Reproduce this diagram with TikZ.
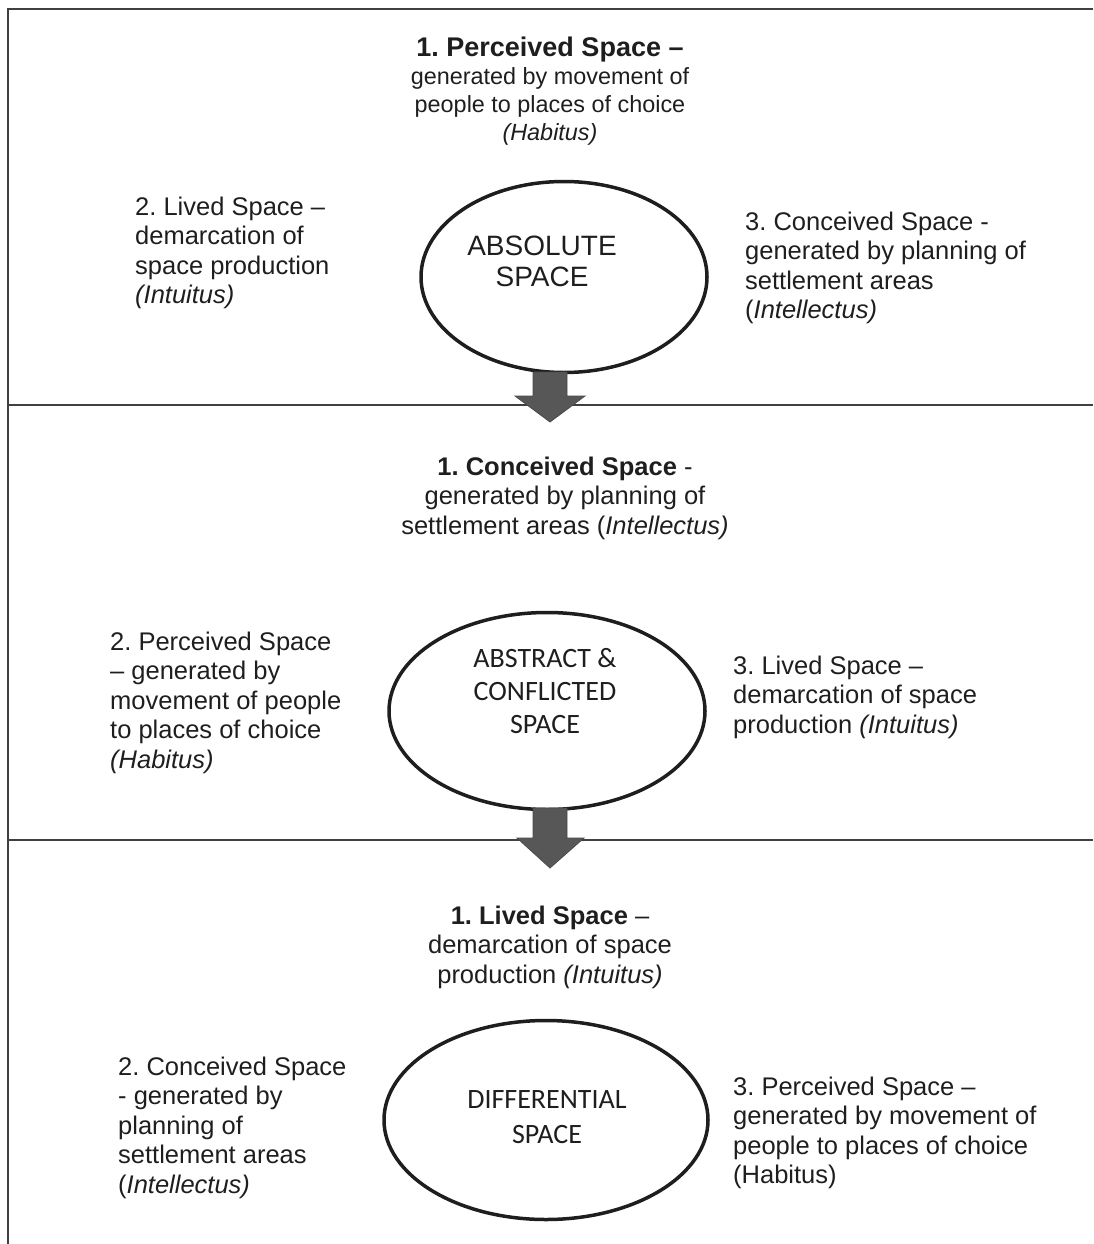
\documentclass[tikz,border=0pt]{standalone}
\usepackage{fontspec}
\setmainfont{Liberation Sans}
\newfontfamily\calfont{Carlito}
\usetikzlibrary{shapes.geometric}
\definecolor{ink}{HTML}{1E1E1E}
\definecolor{arrowfill}{HTML}{575757}
\frenchspacing
\tikzset{
  txt/.style={font=\fontsize{25.5}{29.5}\selectfont, inner sep=0pt, text=ink},
  ctxt/.style={txt, align=center, anchor=north},
  ltxt/.style={txt, align=left, anchor=north west},
  ell/.style={ellipse, draw=ink, line width=3.5pt, inner sep=0pt},
  frameline/.style={draw=ink!85, line width=1.8pt},
  downarrow/.style={fill=arrowfill, draw=ink!80, line width=0.8pt},
  arial/.style={font=\fontsize{28}{31}\selectfont, inner sep=0pt, text=ink, align=center, anchor=north},
  calib/.style={font=\calfont\fontsize{28}{33}\selectfont, inner sep=0pt, text=ink, align=center, anchor=north}
}
\begin{document}
\begin{tikzpicture}[x=1pt,y=-1pt]
\useasboundingbox (0,0) rectangle (1093,1244);
% frame
\coordinate (tl) at (8,9);
\coordinate (tr) at (1093,9);
\coordinate (bl) at (8,1244);
\coordinate (m1l) at (8,405);
\coordinate (m1r) at (1093,405);
\coordinate (m2l) at (8,840);
\coordinate (m2r) at (1093,840);
\draw[frameline] (bl) -- (tl) -- (tr);
\draw[frameline] (m1l) -- (m1r);
\draw[frameline] (m2l) -- (m2r);

% ellipses
\node[ell, minimum width=286pt, minimum height=191pt] (e1) at (564,277) {};
\node[ell, minimum width=316pt, minimum height=197pt] (e2) at (547,711) {};
\node[ell, minimum width=324pt, minimum height=199pt] (e3) at (546,1120) {};

% arrows
\draw[downarrow] (533,372) -- (567,372) -- (567,396) -- (585,396) -- (550,422) -- (515,396) -- (533,396) -- cycle;
\draw[downarrow] (533,808) -- (567,808) -- (567,838) -- (584,838) -- (550,868) -- (517,838) -- (533,838) -- cycle;

% ellipse labels
\node[arial] (l1) at (542,233.3) {\strut ABSOLUTE\\SPACE};
\node[calib] (l2) at (545,643.9) {\strut ABSTRACT \&\\CONFLICTED\\SPACE};
\node[calib, font=\calfont\fontsize{28}{35}\selectfont] (l3) at (547,1083.5) {\strut DIFFERENTIAL\\SPACE};

% section 1
\node[ctxt, font=\fontsize{23.4}{28}\selectfont] (t1) at (550,36.4) {\strut{\fontsize{27}{28}\selectfont\textbf{1. Perceived Space –}}\\generated by movement of\\people to places of choice\\\textit{(Habitus)}};
\node[ltxt] (a1) at (135,194.4) {\strut 2. Lived Space –\\demarcation of\\space production\\\textit{(Intuitus)}};
\node[ltxt] (b1) at (745,209.4) {\strut 3. Conceived Space -\\generated by planning of\\settlement areas\\(\textit{Intellectus)}};

% section 2
\node[ctxt] (t2) at (565,454.4) {\strut\textbf{1. Conceived Space} -\\generated by planning of\\settlement areas (\textit{Intellectus)}};
\node[ltxt] (a2) at (110,629.4) {\strut 2. Perceived Space\\– generated by\\movement of people\\to places of choice\\\textit{(Habitus)}};
\node[ltxt] (b2) at (733,653.4) {\strut 3. Lived Space –\\demarcation of space\\production \textit{(Intuitus)}};

% section 3
\node[ctxt] (t3) at (550,903.4) {\strut\textbf{1. Lived Space} –\\demarcation of space\\production \textit{(Intuitus)}};
\node[ltxt] (a3) at (118,1054.4) {\strut 2. Conceived Space\\- generated by\\planning of\\settlement areas\\(\textit{Intellectus)}};
\node[ltxt] (b3) at (733,1074.4) {\strut 3. Perceived Space –\\generated by movement of\\people to places of choice\\(Habitus)};
\end{tikzpicture}
\end{document}
